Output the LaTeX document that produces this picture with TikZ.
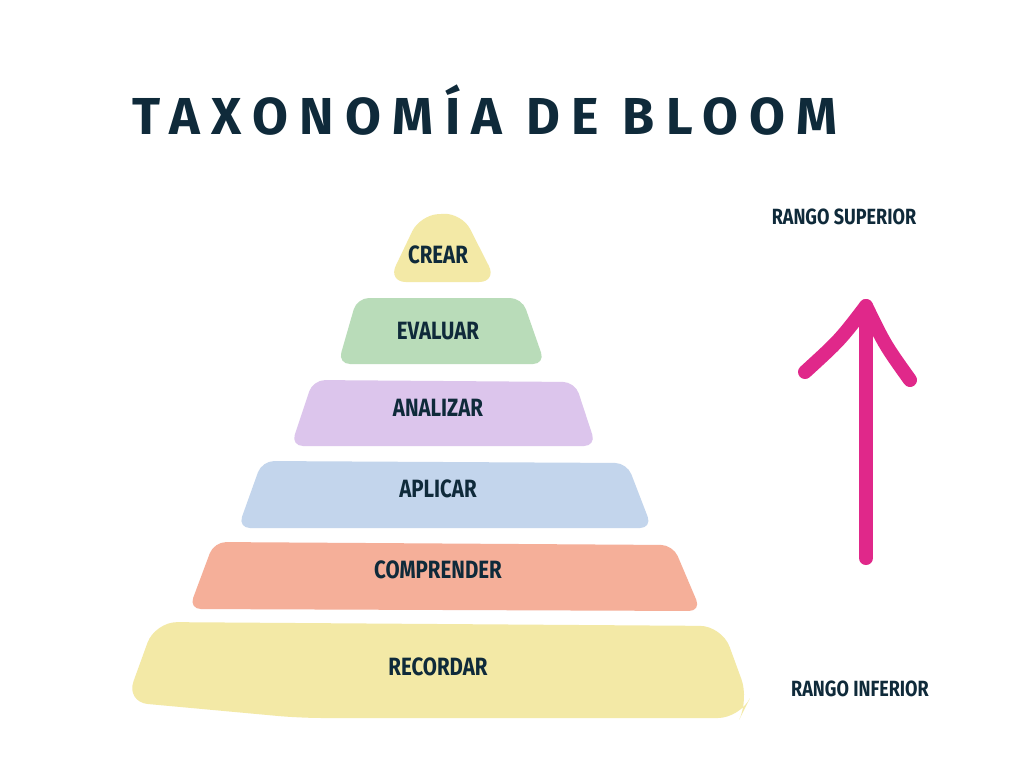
\documentclass[tikz,border=0pt]{standalone}
\usepackage{fontspec}
\setmainfont{Fira Sans}
\newfontfamily\titlefont[LetterSpace=22]{Fira Sans Bold}
\newfontfamily\labfont[FakeStretch=0.82]{Fira Sans Bold}
\definecolor{navy}{HTML}{0F2A3A}
\definecolor{cyel}{HTML}{F3E9A6}
\definecolor{cgrn}{HTML}{B9DCB9}
\definecolor{cpur}{HTML}{DCC5EC}
\definecolor{cblu}{HTML}{C3D5EC}
\definecolor{csal}{HTML}{F5AF99}
\definecolor{cmag}{HTML}{E0288A}
\begin{document}
\begin{tikzpicture}[x=1pt,y=-1pt,
  layer/.style={rounded corners=12pt},
  lab/.style={text=navy,font=\labfont\fontsize{25}{25}\selectfont},
  side/.style={text=navy,font=\labfont\fontsize{22}{22}\selectfont}]
\fill[white] (0,0) rectangle (1024,768);
\useasboundingbox (0,0) rectangle (1024,768);
\node[text=navy,font=\titlefont\fontsize{52}{52}\selectfont] (title) at (485,110) {TAXONOMÍA DE BLOOM};
% layers
\fill[cyel,rounded corners=18pt] (388,282) -- (420,215) -- (462,213) -- (497,282) -- cycle;
\fill[cgrn,layer] (338,364) -- (357,298) -- (522,298) -- (545,364) -- cycle;
\fill[cpur,layer] (291,446) -- (313,380) -- (575,382) -- (596,446) -- cycle;
\fill[cblu,layer] (238,528) -- (262,461) -- (627,463) -- (652,528) -- cycle;
\fill[csal,layer] (189,609) -- (214,542) -- (673,545) -- (701,611) -- cycle;
\fill[cyel,rounded corners=22pt] (126,702) -- (155,622) -- (722,626) -- (749,700) -- (740,718) -- (300,718) -- cycle;
\node[lab] (crear) at (438,255) {CREAR};
\node[lab] (evaluar) at (438,331) {EVALUAR};
\node[lab] (analizar) at (438,408) {ANALIZAR};
\node[lab] (aplicar) at (438,489) {APLICAR};
\node[lab] (comprender) at (438,570) {COMPRENDER};
\node[lab] (recordar) at (438,667) {RECORDAR};
\node[side] (sup) at (844,217) {RANGO SUPERIOR};
\node[side] (inf) at (860,689) {RANGO INFERIOR};
% arrow
\coordinate (abot) at (866,558);
\coordinate (atop) at (866,306);
\draw[cmag,line width=14pt,line cap=round,line join=round] (abot) -- (atop);
\draw[cmag,line width=14pt,line cap=round,line join=round] (805,372) .. controls (840,340) .. (866,306) .. controls (885,345) .. (910,380);
\end{tikzpicture}
\end{document}
